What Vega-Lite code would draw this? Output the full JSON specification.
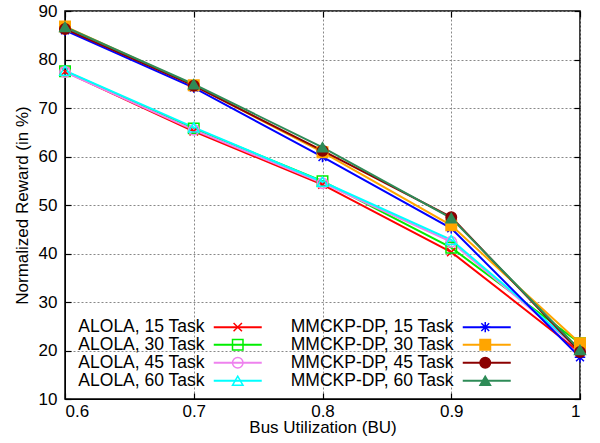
{
  "$schema": "https://vega.github.io/schema/vega-lite/v6.json",
  "width": 515,
  "height": 388,
  "autosize": {"type": "none"},
  "padding": {"left": 65, "top": 11, "right": 20, "bottom": 44},
  "background": "white",
  "config": {
    "font": "Liberation Sans",
    "view": {"stroke": "black", "strokeWidth": 1.5},
    "axis": {
      "labelFont": "Liberation Sans",
      "titleFont": "Liberation Sans",
      "labelFontSize": 17,
      "titleFontSize": 17,
      "titleFontWeight": "normal",
      "labelColor": "black",
      "titleColor": "black",
      "domainColor": "black",
      "tickColor": "black",
      "tickWidth": 1.2,
      "gridColor": "#888888",
      "gridDash": [2, 2],
      "gridWidth": 1
    },
    "legend": {
      "labelFont": "Liberation Sans",
      "labelFontSize": 17.5,
      "labelColor": "black",
      "labelLimit": 400
    }
  },
  "data": {
    "values": [
      {"series": "ALOLA, 15 Task", "bu": 0.6, "reward": 77.5},
      {"series": "ALOLA, 15 Task", "bu": 0.7, "reward": 65.2},
      {"series": "ALOLA, 15 Task", "bu": 0.8, "reward": 54.2},
      {"series": "ALOLA, 15 Task", "bu": 0.9, "reward": 40.3},
      {"series": "ALOLA, 15 Task", "bu": 1.0, "reward": 19.6},
      {"series": "ALOLA, 30 Task", "bu": 0.6, "reward": 77.6},
      {"series": "ALOLA, 30 Task", "bu": 0.7, "reward": 65.8},
      {"series": "ALOLA, 30 Task", "bu": 0.8, "reward": 54.9},
      {"series": "ALOLA, 30 Task", "bu": 0.9, "reward": 41.2},
      {"series": "ALOLA, 30 Task", "bu": 1.0, "reward": 21.5},
      {"series": "ALOLA, 45 Task", "bu": 0.6, "reward": 77.4},
      {"series": "ALOLA, 45 Task", "bu": 0.7, "reward": 65.5},
      {"series": "ALOLA, 45 Task", "bu": 0.8, "reward": 54.5},
      {"series": "ALOLA, 45 Task", "bu": 0.9, "reward": 42.4},
      {"series": "ALOLA, 45 Task", "bu": 1.0, "reward": 20.0},
      {"series": "ALOLA, 60 Task", "bu": 0.6, "reward": 77.7},
      {"series": "ALOLA, 60 Task", "bu": 0.7, "reward": 66.0},
      {"series": "ALOLA, 60 Task", "bu": 0.8, "reward": 54.8},
      {"series": "ALOLA, 60 Task", "bu": 0.9, "reward": 42.8},
      {"series": "ALOLA, 60 Task", "bu": 1.0, "reward": 20.2},
      {"series": "MMCKP-DP, 15 Task", "bu": 0.6, "reward": 86.0},
      {"series": "MMCKP-DP, 15 Task", "bu": 0.7, "reward": 74.2},
      {"series": "MMCKP-DP, 15 Task", "bu": 0.8, "reward": 59.9},
      {"series": "MMCKP-DP, 15 Task", "bu": 0.9, "reward": 45.2},
      {"series": "MMCKP-DP, 15 Task", "bu": 1.0, "reward": 18.6},
      {"series": "MMCKP-DP, 30 Task", "bu": 0.6, "reward": 86.8},
      {"series": "MMCKP-DP, 30 Task", "bu": 0.7, "reward": 74.7},
      {"series": "MMCKP-DP, 30 Task", "bu": 0.8, "reward": 60.9},
      {"series": "MMCKP-DP, 30 Task", "bu": 0.9, "reward": 45.8},
      {"series": "MMCKP-DP, 30 Task", "bu": 1.0, "reward": 21.5},
      {"series": "MMCKP-DP, 45 Task", "bu": 0.6, "reward": 86.3},
      {"series": "MMCKP-DP, 45 Task", "bu": 0.7, "reward": 74.6},
      {"series": "MMCKP-DP, 45 Task", "bu": 0.8, "reward": 61.2},
      {"series": "MMCKP-DP, 45 Task", "bu": 0.9, "reward": 47.5},
      {"series": "MMCKP-DP, 45 Task", "bu": 1.0, "reward": 19.7},
      {"series": "MMCKP-DP, 60 Task", "bu": 0.6, "reward": 86.7},
      {"series": "MMCKP-DP, 60 Task", "bu": 0.7, "reward": 74.9},
      {"series": "MMCKP-DP, 60 Task", "bu": 0.8, "reward": 61.9},
      {"series": "MMCKP-DP, 60 Task", "bu": 0.9, "reward": 47.3},
      {"series": "MMCKP-DP, 60 Task", "bu": 1.0, "reward": 20.1}
    ]
  },
  "resolve": {"axis": {"x": "independent", "y": "independent"}},
  "layer": [
    {
      "mark": {"type": "point", "opacity": 0},
      "encoding": {
        "x": {
          "field": "bu",
          "type": "quantitative",
          "scale": {"domain": [0.6, 1.0], "nice": false, "zero": false},
          "axis": {"orient": "top", "title": null, "labels": false, "grid": false, "domain": false, "tickSize": -6, "values": [0.6, 0.7, 0.8, 0.9, 1.0]}
        },
        "y": {
          "field": "reward",
          "type": "quantitative",
          "scale": {"domain": [10, 90], "nice": false, "zero": false},
          "axis": {"orient": "right", "title": null, "labels": false, "grid": false, "domain": false, "tickSize": -6, "values": [10, 20, 30, 40, 50, 60, 70, 80, 90]}
        }
      }
    },
    {
      "mark": {"type": "line", "strokeWidth": 2},
      "encoding": {
        "x": {
          "field": "bu",
          "type": "quantitative",
          "axis": {
            "orient": "bottom",
            "title": "Bus Utilization (BU)",
            "values": [0.6, 0.7, 0.8, 0.9, 1.0],
            "format": "~g",
            "tickSize": -6,
            "labelPadding": 10,
            "titlePadding": 0,
            "grid": true
          }
        },
        "y": {
          "field": "reward",
          "type": "quantitative",
          "axis": {
            "orient": "left",
            "title": "Normalized Reward (in %)",
            "values": [10, 20, 30, 40, 50, 60, 70, 80, 90],
            "tickSize": -6,
            "labelPadding": 14,
            "titlePadding": 7,
            "grid": true
          }
        },
        "color": {
          "field": "series",
          "type": "nominal",
          "scale": {
            "range": ["#ff0000", "#00ee00", "#ee82ee", "#00ffff", "#0000ff", "#ffa500", "#8b0000", "#2e8b57"]
          },
          "legend": {
            "title": null,
            "orient": "none",
            "legendX": 164,
            "legendY": 307,
            "columns": 2,
            "columnPadding": 24,
            "rowPadding": -1.8,
            "symbolType": "M-4.8,0L4.8,0",
            "symbolSize": 100,
            "symbolStrokeWidth": 2,
            "labelAlign": "right",
            "labelOffset": -42
          }
        }
      }
    },
    {
      "mark": {"type": "point", "filled": true, "size": 110, "strokeWidth": 1.5, "opacity": 1},
      "encoding": {
        "x": {"field": "bu", "type": "quantitative", "axis": null},
        "y": {"field": "reward", "type": "quantitative", "axis": null},
        "stroke": {
          "field": "series",
          "type": "nominal",
          "scale": {
            "domain": ["ALOLA, 15 Task", "ALOLA, 30 Task", "ALOLA, 45 Task", "ALOLA, 60 Task", "MMCKP-DP, 15 Task", "MMCKP-DP, 30 Task", "MMCKP-DP, 45 Task", "MMCKP-DP, 60 Task"],
            "range": ["#ff0000", "#00ee00", "#ee82ee", "#00ffff", "#0000ff", "#ffa500", "#8b0000", "#2e8b57"]
          },
          "legend": {
            "title": null,
            "orient": "none",
            "legendX": 164,
            "legendY": 307,
            "columns": 2,
            "columnPadding": 41.5,
            "rowPadding": -1.8,
            "symbolSize": 110,
            "symbolStrokeWidth": 1.5,
            "symbolOffset": 0,
            "labelAlign": "right",
            "labelOffset": -42.5,
            "labelOpacity": 0
          }
        },
        "fill": {
          "field": "series",
          "type": "nominal",
          "scale": {
            "domain": ["ALOLA, 15 Task", "ALOLA, 30 Task", "ALOLA, 45 Task", "ALOLA, 60 Task", "MMCKP-DP, 15 Task", "MMCKP-DP, 30 Task", "MMCKP-DP, 45 Task", "MMCKP-DP, 60 Task"],
            "range": ["transparent", "transparent", "transparent", "transparent", "#0000ff", "#ffa500", "#8b0000", "#2e8b57"]
          }
        },
        "shape": {
          "field": "series",
          "type": "nominal",
          "scale": {
            "domain": ["ALOLA, 15 Task", "ALOLA, 30 Task", "ALOLA, 45 Task", "ALOLA, 60 Task", "MMCKP-DP, 15 Task", "MMCKP-DP, 30 Task", "MMCKP-DP, 45 Task", "MMCKP-DP, 60 Task"],
            "range": ["M-0.8,-0.8L0.8,0.8M-0.8,0.8L0.8,-0.8", "square", "circle", "triangle-up", "M-1,0L1,0M0,-1L0,1M-0.75,-0.75L0.75,0.75M-0.75,0.75L0.75,-0.75", "square", "circle", "triangle-up"]
          }
        }
      }
    }
  ]
}
